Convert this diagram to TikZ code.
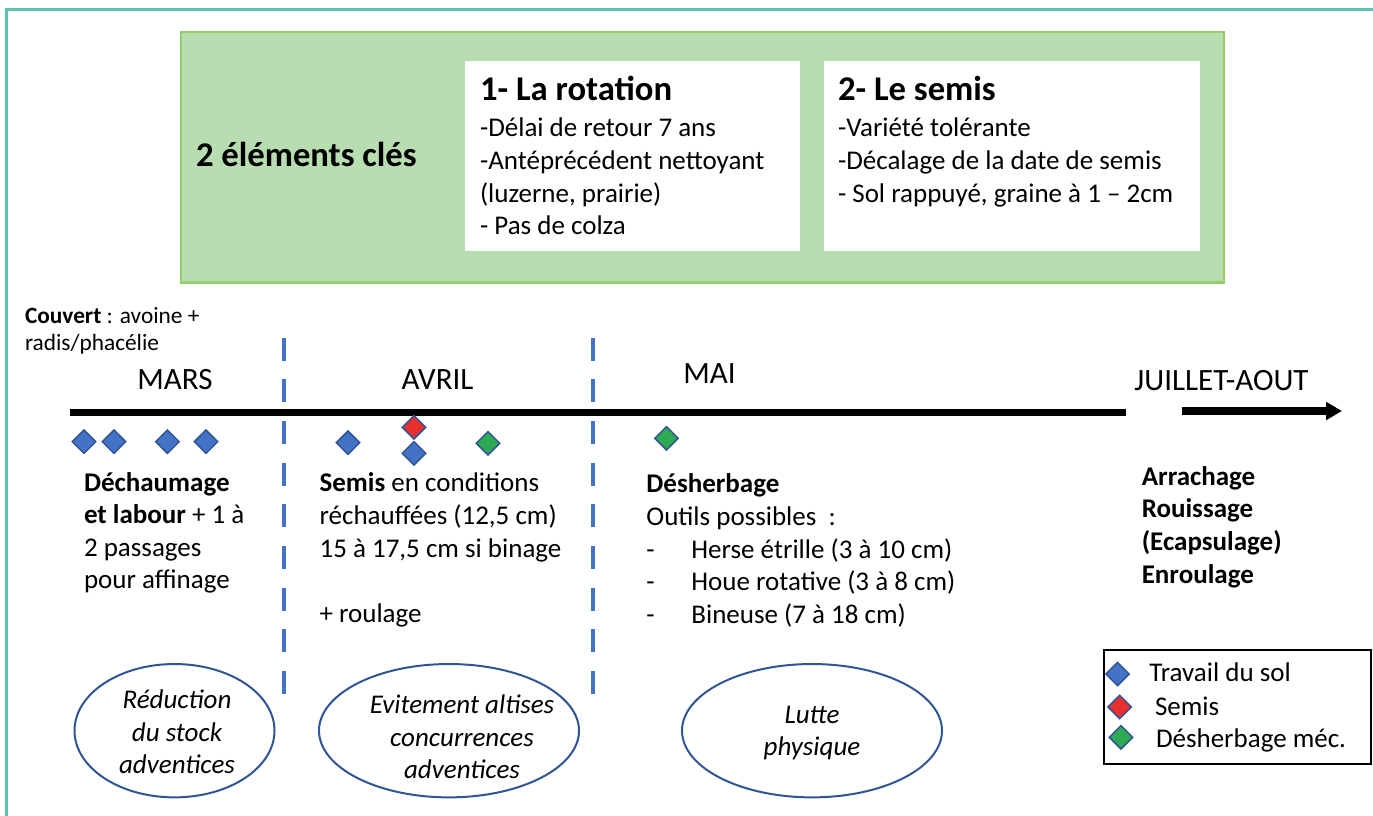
\documentclass[tikz,border=0pt]{standalone}
\usepackage{fontspec}
\setmainfont{Carlito}
\usetikzlibrary{shapes.geometric,arrows.meta}
\definecolor{frameteal}{HTML}{5BC5B4}
\definecolor{gfill}{HTML}{B7DDB1}
\definecolor{gdraw}{HTML}{92CF6A}
\definecolor{dblue}{HTML}{4472C4}
\definecolor{eblue}{HTML}{2F5597}
\definecolor{dred}{HTML}{E8302F}
\definecolor{dgreen}{HTML}{2EAA55}
\tikzset{
  txt/.style={inner sep=0pt, outer sep=0pt, align=left, anchor=base west},
  body/.style={txt, font=\fontsize{20.25}{24.5}\selectfont},
  titlefont/.style={txt, font=\fontsize{26}{30}\selectfont\bfseries},
  month/.style={inner sep=0pt, anchor=base, font=\fontsize{23.25}{28}\selectfont},
  small/.style={txt, font=\fontsize{17.5}{20.25}\selectfont},
  ell/.style={ellipse, draw=eblue, line width=1.5pt, inner sep=0pt},
  elltxt/.style={inner sep=0pt, align=center, font=\fontsize{20.25}{24.5}\selectfont\itshape},
  diam/.style={diamond, draw=eblue, line width=1.1pt, inner sep=0pt, minimum size=18pt},
  bluediam/.style={diam, fill=dblue},
  reddiam/.style={diam, fill=dred},
  greendiam/.style={diam, fill=dgreen},
  sep/.style={draw=dblue, line width=3.4pt, dash pattern=on 17.25pt off 14pt},
}
\begin{document}
\begin{tikzpicture}[x=0.75pt,y=-0.75pt]
\useasboundingbox (0,0) rectangle (1373,816);
% outer frame
\draw[frameteal, line width=2.2pt] (1390,9.5) -- (6.5,9.5) -- (6.5,830);
% green key box
\draw[gdraw, fill=gfill, line width=1.6pt] (181,32) rectangle (1224,282.5);
\fill[white] (465,61) rectangle (800,250.7);
\fill[white] (824,61) rectangle (1200,250.7);
\node[titlefont] (keys) at (196,167) {2 éléments clés};
\node[titlefont] (rotT) at (480,101) {1- La rotation};
% multi-line nodes: base anchor = baseline of last line
\node[body] (rotB) at (480,235) {-Délai de retour 7 ans\\-Antéprécédent nettoyant\\(luzerne, prairie)\\- Pas de colza};
\node[titlefont] (semT) at (838,101) {2- Le semis};
\node[body] (semB) at (838,202.3) {-Variété tolérante\\-Décalage de la date de semis\\- Sol rappuyé, graine à 1 – 2cm};
% cover crop
\node[small] (couv) at (25,350) {\textbf{Couvert} : avoine +\\radis/phacélie};
% month labels
\node[month] (mars) at (175,389) {MARS};
\node[month] (avril) at (437.5,389) {AVRIL};
\node[month] (mai) at (709.6,383) {MAI};
\node[month] (juil) at (1221.5,390) {JUILLET-AOUT};
% timeline
\coordinate (tlA) at (70,412.5);
\coordinate (tlB) at (1126,412.5);
\coordinate (arA) at (1182,411);
\coordinate (arB) at (1342,411);
\draw[line width=5.4pt] (tlA) -- (tlB);
\draw[line width=6pt, -{Triangle[length=12pt,width=13pt]}] (arA) -- (arB);
% separators
\coordinate (s1a) at (284,337.7);
\coordinate (s1b) at (284,696);
\coordinate (s2a) at (593,337.7);
\coordinate (s2b) at (593,696);
\draw[sep] (s1a) -- (s1b);
\draw[sep] (s2a) -- (s2b);
% diamonds
\node[bluediam] (m1) at (84,441.7) {};
\node[bluediam] (m2) at (114,441.7) {};
\node[bluediam] (m3) at (167.4,441.7) {};
\node[bluediam] (m4) at (206,441.7) {};
\node[bluediam] (a1) at (348,442.7) {};
\node[bluediam] (a3) at (414,453.3) {};
\node[reddiam] (a2) at (414,427.3) {};
\node[greendiam] (a4) at (488,443.3) {};
\node[greendiam] (y1) at (666.5,438.3) {};
% step texts
\node[body, font=\fontsize{20.25}{24.2}\selectfont] (t1) at (84,588.5) {\textbf{Déchaumage}\\\textbf{et labour} + 1 à\\2 passages\\pour affinage};
\node[body] (t2) at (319.6,622.4) {\textbf{Semis} en conditions\\réchauffées (12,5 cm)\\15 à 17,5 cm si binage\\\mbox{}\\+ roulage};
\node[body, font=\fontsize{20.25}{24.4}\selectfont] (t3) at (646.4,623.1) {\textbf{Désherbage}\\Outils possibles~ :\\\makebox[33.75pt][l]{-}Herse étrille (3 à 10 cm)\\\makebox[33.75pt][l]{-}Houe rotative (3 à 8 cm)\\\makebox[33.75pt][l]{-}Bineuse (7 à 18 cm)};
\node[body, font=\fontsize{20.25}{24.5}\selectfont\bfseries] (t4) at (1141.8,583) {Arrachage\\Rouissage\\(Ecapsulage)\\Enroulage};
% ellipses
\node[ell, minimum width=150pt, minimum height=100pt] (e1) at (174.5,730.7) {};
\node[elltxt] (e1t) at (177,732) {Réduction\\du stock\\adventices};
\node[ell, minimum width=195pt, minimum height=100pt] (e2) at (449,730.7) {};
\node[elltxt] (e2t) at (462,737) {Evitement altises\\concurrences\\adventices};
\node[ell, minimum width=195pt, minimum height=100pt] (e3) at (812,730.7) {};
\node[elltxt] (e3t) at (812,733) {Lutte\\physique};
% legend
\draw[black, line width=1.2pt] (1104,650) rectangle (1371,764);
\node[bluediam] (l1) at (1117.5,674) {};
\node[reddiam] (l2) at (1119.7,707) {};
\node[greendiam] (l3) at (1121,737.3) {};
\node[body] (l1t) at (1149.3,681.7) {Travail du sol};
\node[body] (l2t) at (1155,715) {Semis};
\node[body] (l3t) at (1156,747) {Désherbage méc.};
\end{tikzpicture}
\end{document}
